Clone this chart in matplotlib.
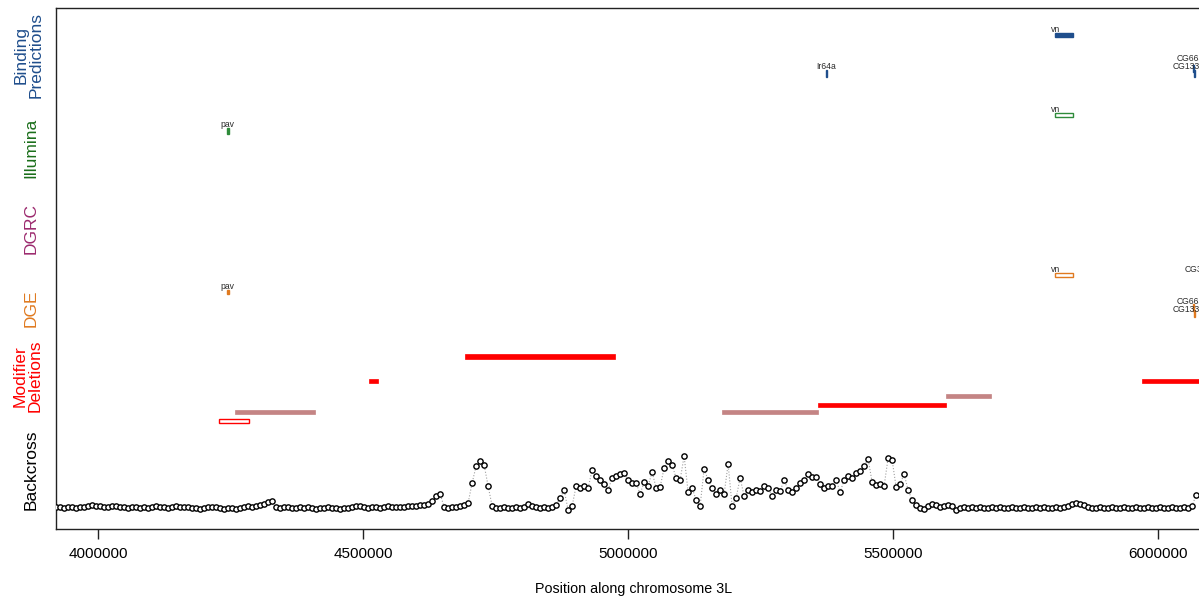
import matplotlib
matplotlib.use("Agg")
import matplotlib.pyplot as plt
from matplotlib.patches import Rectangle
import numpy as np

plt.rcParams['font.family'] = ['Liberation Sans', 'DejaVu Sans']

# --- data -------------------------------------------------------------
# backcross markers (evenly spaced along 3L) and their score above baseline
bc_first = 3921000
bc_step = 7547
backcross_score = [
    1, 1, 0, 1, 1, 0, 1, 1, 2, 3,
    2, 2, 1, 1, 2, 2, 1, 1, 0, 1,
    1, 0, 1, 0, 1, 2, 1, 1, 0, 1,
    2, 1, 1, 1, 0, 0, -1, 0, 1, 1,
    1, 0, -1, 0, 0, -1, 0, 1, 2, 1,
    2, 3, 4, 6, 7, 1, 0, 1, 1, 0,
    0, 1, 0, 1, 0, -1, 0, 0, 1, 0,
    0, -1, 0, 0, 1, 2, 2, 1, 0, 1,
    1, 0, 1, 2, 1, 1, 1, 1, 2, 2,
    2, 3, 3, 4, 7, 12, 14, 1, 0, 1,
    1, 2, 3, 5, 25, 42, 47, 43, 22, 2,
    0, 0, 1, 0, 0, 1, 0, 1, 4, 2,
    1, 0, 1, 0, 1, 3, 10, 18, -2, 2,
    22, 20, 22, 20, 38, 32, 28, 24, 18, 30,
    32, 34, 35, 28, 25, 25, 14, 26, 22, 36,
    20, 21, 40, 47, 43, 30, 28, 52, 16, 20,
    8, 2, 39, 28, 20, 14, 18, 14, 44, 2,
    10, 30, 12, 18, 16, 18, 17, 22, 20, 12,
    18, 17, 28, 18, 16, 20, 25, 28, 34, 31,
    31, 24, 20, 22, 22, 28, 16, 28, 32, 30,
    35, 37, 42, 49, 26, 23, 24, 22, 50, 48,
    21, 24, 34, 18, 8, 3, 0, -1, 2, 4,
    3, 1, 2, 3, 2, -2, 0, 1, 0, 1,
    0, 1, 0, 0, 1, 0, 1, 0, 0, 1,
    0, 0, 1, 0, 0, 1, 0, 1, 0, 0,
    1, 0, 1, 2, 4, 5, 4, 3, 1, 0,
    0, 1, 0, 0, 1, 0, 0, 1, 0, 0,
    1, 0, 0, 1, 0, 0, 1, 0, 0, 1,
    0, 0, 1, 0, 2, 13,
]
bc_pos = bc_first + bc_step * np.arange(len(backcross_score))

# modifier deletions
del_start = [4692000, 4511000, 5358500, 5970000, 4258500, 5177500, 5600000, 4228500]
del_end = [4975000, 4528500, 5600000, 6100000, 4409500, 5358500, 5685000, 4285000]
del_kind = ['mod', 'mod', 'mod', 'mod', 'weak', 'weak', 'weak', 'open']

# gene hits per track
bind_gene = ['vn', 'Ir64a', 'CG6650', 'CG13321']
bind_start = [5806000, 5372800, 6066000, 6067000]
bind_end = [5840000, 5375200, 6068500, 6069500]

illu_gene = ['pav', 'vn']
illu_start = [4243500, 5806000]
illu_end = [4246500, 5840000]

dge_gene = ['pav', 'vn', 'CG32354', 'CG6650', 'CG13321']
dge_start = [4243500, 5806000, 6088000, 6066000, 6067000]
dge_end = [4246500, 5840000, 6091000, 6068500, 6069500]

tick_pos = [4000000, 4500000, 5000000, 5500000, 6000000]

# --- layout (y in pixel-like units, 0 = bottom of box) ---------------
H = 521
def ypx(p):
    return 529 - p

c_bind = '#1f4e8c'
c_illu = '#2e8b3a'
c_dgrc = '#9c2a6e'
c_dge = '#e07a20'
c_del = '#ff0000'
c_weak = '#c48484'

fig = plt.figure(figsize=(11.99, 6.02), dpi=100)
ax = fig.add_axes([56 / 1199, 73 / 602, 1155 / 1199, 521 / 602])
ax.set_xlim(3920755, 6100000)
ax.set_ylim(0, H)


def box(x0, x1, yc, h, color, filled=True, lw=1.0):
    if filled:
        r = Rectangle((x0, yc - h / 2), x1 - x0, h, facecolor=color,
                      edgecolor=color, linewidth=lw)
    else:
        r = Rectangle((x0, yc - h / 2), x1 - x0, h, facecolor='none',
                      edgecolor=color, linewidth=lw)
    ax.add_patch(r)


def label(x, y, s):
    ax.text(x, y, s, fontsize=6.2, color='#2a2a2a', ha='center', va='bottom')


# binding predictions
bind_y = [35, 73.5, 68.5, 73.5]
bind_h = [4, 7, 7, 7]
for g, s, e, yy, hh in zip(bind_gene, bind_start, bind_end, bind_y, bind_h):
    box(s, e, ypx(yy), hh, c_bind)
label(bind_start[0], ypx(34), bind_gene[0])
label(bind_start[1] + 1000, ypx(71), bind_gene[1])
label(bind_start[2], ypx(63), bind_gene[2])
label(bind_start[3] - 4000, ypx(71), bind_gene[3])

# illumina
box(illu_start[0], illu_end[0], ypx(130.5), 6, c_illu)
label(illu_start[0] + 1500, ypx(129), illu_gene[0])
box(illu_start[1], illu_end[1], ypx(115), 4, c_illu, filled=False)
label(illu_start[1], ypx(114), illu_gene[1])

# DGE
box(dge_start[0], dge_end[0], ypx(292), 4, c_dge)
label(dge_start[0] + 1500, ypx(291), dge_gene[0])
box(dge_start[1], dge_end[1], ypx(275), 4, c_dge, filled=False)
label(dge_start[1], ypx(274), dge_gene[1])
label(dge_start[2] - 3000, ypx(274), dge_gene[2])
box(dge_start[3], dge_end[3], ypx(307), 7, c_dge)
box(dge_start[4], dge_end[4], ypx(313), 7, c_dge)
label(dge_start[3], ypx(306), dge_gene[3])
label(dge_start[4] - 4000, ypx(314), dge_gene[4])

# modifier deletions
del_y = [356.5, 381, 405, 381, 412, 412, 396, 421]
for s, e, k, yy in zip(del_start, del_end, del_kind, del_y):
    if k == 'mod':
        box(s, e, ypx(yy), 4.5, c_del, lw=0.5)
    elif k == 'weak':
        box(s, e, ypx(yy), 3.5, c_weak, lw=0.5)
    else:
        box(s, e, ypx(yy), 3.5, c_del, filled=False, lw=1.0)

# backcross
bc_y = ypx(508) + np.array(backcross_score, dtype=float)
ax.plot(bc_pos, bc_y, linestyle=':', color='#a0a0a0', linewidth=0.8, zorder=2)
ax.plot(bc_pos, bc_y, linestyle='none', marker='o', markersize=3.8,
        markerfacecolor='white', markeredgecolor='black', markeredgewidth=1.0,
        zorder=3)

# axes styling
for sp in ['left', 'top', 'bottom', 'right']:
    ax.spines[sp].set_linewidth(1.0)
    ax.spines[sp].set_color('#222222')
ax.set_yticks([])
ax.set_xticks(tick_pos)
ax.set_xticklabels([str(t) for t in tick_pos], fontsize=11)
ax.tick_params(axis='x', length=7, width=1.0, pad=6, color='#222222')
ax.set_xlabel('Position along chromosome 3L', fontsize=10.3, labelpad=15)

# track names on the left
def side(x, y, s, c):
    fig.text(x / 1199, 1 - y / 602, s, rotation=90, color=c, fontsize=12.5,
             ha='center', va='center', linespacing=1.0)

side(29, 55, 'Binding\nPredictions', c_bind)
side(31, 148, 'Illumina', '#1a6e1a')
side(31, 228, 'DGRC', c_dgrc)
side(31, 308, 'DGE', c_dge)
side(28, 376, 'Modifier\nDeletions', c_del)
side(31, 470, 'Backcross', 'black')

fig.savefig('out.png', dpi=100)
